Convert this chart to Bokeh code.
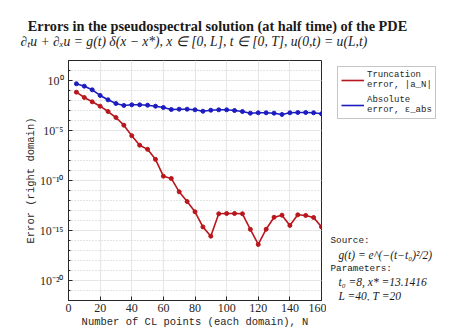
from bokeh.plotting import figure
from bokeh.layouts import column, row
from bokeh.models import (FixedTicker, CustomJSTickFormatter, Label, Legend, LegendItem,
                          Range1d)
from bokeh.embed import file_html
from bokeh.resources import INLINE

# ---------------- data ----------------
N = [5, 10, 15, 20, 25, 30, 35, 40, 45, 50, 55, 60, 65, 70, 75, 80,
     85, 90, 95, 100, 105, 110, 115, 120, 125, 130, 135, 140, 145, 150, 155, 160]
trunc_err = [6.8e-2, 2.0e-2, 7.4e-3, 2.7e-3, 7.9e-4, 2.0e-4, 3.4e-5, 3.0e-6,
             3.4e-7, 1.3e-7, 1.3e-8, 2.7e-10, 1.6e-10, 7.4e-12, 7.9e-13, 7.4e-14,
             2.3e-15, 2.7e-16, 4.7e-14, 5.0e-14, 5.0e-14, 4.7e-14, 1.3e-15, 4.0e-17,
             1.35e-15, 2.1e-14, 3.4e-14, 3.2e-15, 3.7e-14, 3.2e-14, 2.0e-14, 2.3e-15]
abs_err = [0.47, 0.27, 0.117, 3.2e-2, 1.17e-2, 5.0e-3, 3.2e-3, 3.7e-3,
           3.7e-3, 3.4e-3, 2.7e-3, 2.0e-3, 1.26e-3, 1.35e-3, 1.35e-3, 1.17e-3,
           8.5e-4, 1.07e-3, 1.17e-3, 1.17e-3, 1.0e-3, 7.9e-4, 5.4e-4, 5.9e-4,
           5.9e-4, 5.4e-4, 4.0e-4, 5.9e-4, 6.3e-4, 6.3e-4, 5.9e-4, 4.7e-4]
x_ticks = [0, 20, 40, 60, 80, 100, 120, 140, 160]
y_ticks = [1e-20, 1e-15, 1e-10, 1e-5, 1e0]
y_minor = [10.0 ** k for k in range(-22, 3)]

title_text = "Errors in the pseudospectral solution (at half time) of the PDE"
subtitle_text = ("\u2202\u209cu + \u2202\u2093u = g(t) \u03b4(x \u2212 x*),  x \u2208 [0, L],  "
                 "t \u2208 [0, T],  u(0,t) = u(L,t)")
label_trunc = "Truncation\nerror, |a_N|"
label_abs = "Absolute\nerror, \u03b5_abs"
source_lines = ["Source:", "g(t) = e^(\u2212(t\u2212t\u2080)\u00b2/2)", "Parameters:",
                "t\u2080 =8, x* =13.1416", "L =40, T =20"]

RED = "#b8171d"
BLUE = "#1c1cc0"
INK = "#262626"
SERIF = "Liberation Serif"
MONO = "Liberation Mono"
NAN = float("nan")


def blank(fig):
    fig.xaxis.visible = False
    fig.yaxis.visible = False
    fig.xgrid.visible = False
    fig.ygrid.visible = False
    fig.outline_line_color = None
    fig.background_fill_color = "white"
    fig.border_fill_color = "white"


# ---------------- title strip ----------------
top = figure(width=459, height=50, output_backend="svg", toolbar_location=None,
             x_range=Range1d(0, 459), y_range=Range1d(50, 0),
             min_border_left=0, min_border_right=0, min_border_top=0, min_border_bottom=0)
blank(top)
top.add_layout(Label(x=217, y=25, text=title_text, text_font=SERIF, text_font_style="bold",
                     text_font_size="14.3px", text_align="center", text_baseline="middle",
                     text_color="#1a1a1a"))
top.add_layout(Label(x=20, y=41, text=subtitle_text, text_font=SERIF, text_font_style="italic",
                     text_font_size="13.6px", text_align="left", text_baseline="middle",
                     text_color="#1a1a1a"))

# ---------------- main plot ----------------
p = figure(width=326, height=284, y_axis_type="log", output_backend="svg",
           toolbar_location=None, x_range=Range1d(0, 160), y_range=Range1d(1e-22, 1e2),
           min_border_left=68, min_border_right=5, min_border_top=10,
           min_border_bottom=34)
p.background_fill_color = "white"
p.border_fill_color = "white"
p.outline_line_color = INK
p.outline_line_width = 1

p.xaxis.ticker = FixedTicker(ticks=x_ticks)
p.yaxis.ticker = FixedTicker(ticks=y_ticks, minor_ticks=y_minor)
p.yaxis.formatter = CustomJSTickFormatter(code="""
const e = Math.round(Math.log10(tick));
const sup = {'-':'\u207b','0':'\u2070','1':'\u00b9','2':'\u00b2','3':'\u00b3','4':'\u2074',
             '5':'\u2075','6':'\u2076','7':'\u2077','8':'\u2078','9':'\u2079'};
return '10' + String(e).split('').map(c => sup[c]).join('');
""")
for ax in (p.xaxis[0], p.yaxis[0]):
    ax.axis_line_color = INK
    ax.major_tick_line_color = INK
    ax.minor_tick_line_color = INK
    ax.major_tick_in = 4
    ax.major_tick_out = 0
    ax.minor_tick_in = 2
    ax.minor_tick_out = 0
    ax.major_label_text_font = SERIF
    ax.major_label_text_font_size = "12px"
    ax.major_label_text_color = INK
    ax.axis_label_text_font = MONO
    ax.axis_label_text_font_style = "normal"
    ax.axis_label_text_font_size = "10.5px"
    ax.axis_label_text_color = INK
p.xaxis.minor_tick_line_color = None
p.xaxis.major_label_standoff = 3
p.xaxis.axis_label_standoff = 1
p.yaxis.major_label_standoff = 5
p.yaxis.axis_label_standoff = 0
p.xaxis.axis_label = "Number of CL points (each domain), N"
p.yaxis.axis_label = "Error (right domain)"

p.xgrid.grid_line_color = "#e6e6e6"
p.ygrid.grid_line_color = "#e6e6e6"
p.ygrid.minor_grid_line_color = "#c8c8c8"
p.ygrid.minor_grid_line_dash = "1 2"

p.line(N, trunc_err, line_color=RED, line_width=1.6)
p.scatter(N, trunc_err, size=4, fill_color=RED, line_color=RED)
p.line(N, abs_err, line_color=BLUE, line_width=1.6)
p.scatter(N, abs_err, size=4, fill_color=BLUE, line_color=BLUE)

# ---------------- right strip: legend + notes ----------------
side = figure(width=133, height=284, output_backend="svg", toolbar_location=None,
              x_range=Range1d(326, 459), y_range=Range1d(300, 60),
              min_border_left=0, min_border_right=0, min_border_top=10,
              min_border_bottom=34)
blank(side)
k1 = side.line([NAN], [NAN], line_color=RED, line_width=1.6)
k2 = side.line([NAN], [NAN], line_color=BLUE, line_width=1.6)
legend = Legend(items=[LegendItem(label=label_trunc, renderers=[k1]),
                       LegendItem(label=label_abs, renderers=[k2])],
                location=(11, 181), orientation="vertical")
legend.label_text_font = MONO
legend.label_text_font_size = "9px"
legend.label_text_color = INK
legend.glyph_width = 23
legend.label_standoff = 3
legend.padding = 3
legend.spacing = 5
legend.border_line_color = "#8c8c8c"
legend.border_line_width = 1
legend.background_fill_alpha = 1
legend.margin = 0
side.add_layout(legend, "center")

note_y = [240, 254, 268, 281, 295]
note_x = [330, 338, 330, 338, 338]
note_font = [MONO, SERIF, MONO, SERIF, SERIF]
note_style = ["normal", "italic", "normal", "italic", "italic"]
note_size = ["9.3px", "11.5px", "9.3px", "11.5px", "11.5px"]
for t, x, y, f, s, z in zip(source_lines, note_x, note_y, note_font, note_style, note_size):
    side.add_layout(Label(x=x, y=y, text=t, text_font=f, text_font_style=s,
                          text_font_size=z, text_align="left", text_baseline="middle",
                          text_color="#1a1a1a"))

layout = column(top, row(p, side, spacing=0), spacing=0)
open("out.html", "w").write(file_html(layout, INLINE))
